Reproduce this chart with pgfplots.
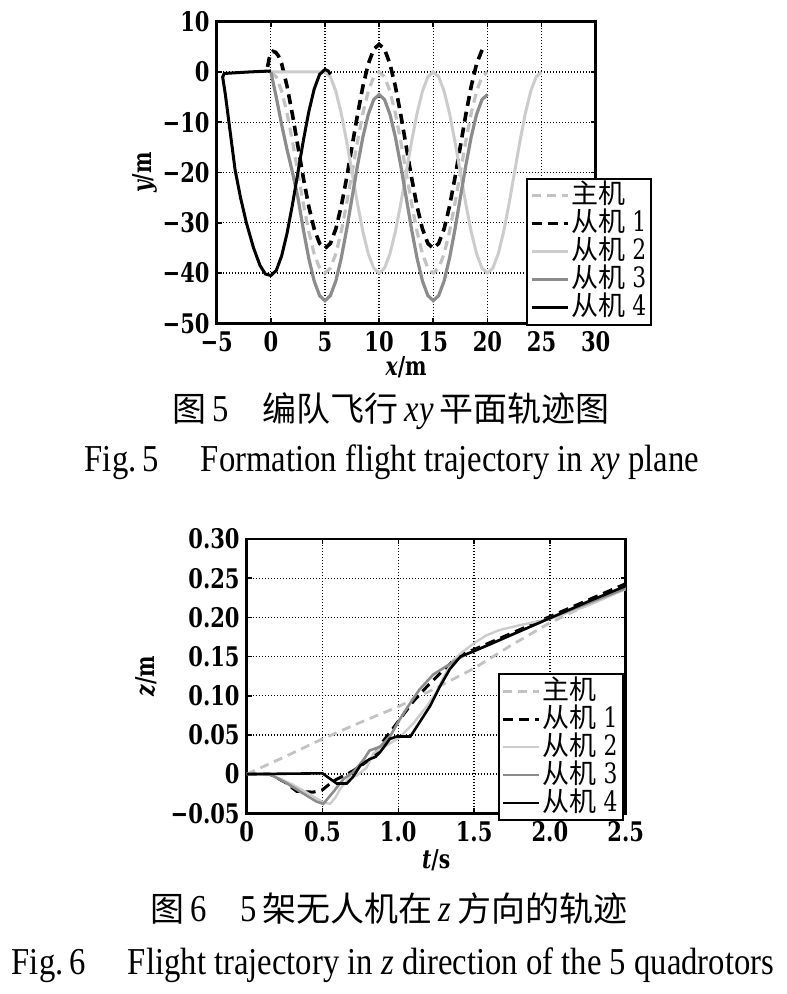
\documentclass[border=0pt]{standalone}
\usepackage{fontspec}
\usepackage{pgfplots}
\pgfplotsset{compat=1.18}
\setmainfont{Liberation Serif}
\newfontfamily\cjk{Noto Sans CJK SC}
\newfontfamily\tickfont{DejaVu Serif}[FakeStretch=0.78]
\newfontfamily\capfont{Liberation Serif}[FakeStretch=0.86]

\definecolor{leadc}{gray}{0.76}
\definecolor{f2c}{gray}{0.80}
\definecolor{f3c}{gray}{0.55}

\pgfplotsset{
  trajax/.style={
    scale only axis,
    anchor=south west,
    axis line style={line width=1.3pt},
    tick style={black, line width=0.8pt},
    major tick length=2.5pt,
    grid=major,
    major grid style={black, line width=0.65pt, dash pattern=on 0.7pt off 0.8pt},
    tick label style={font=\tickfont\bfseries\fontsize{13.5}{13.5}\selectfont},
    xticklabel style={yshift=-0.5pt},
    label style={font=\tickfont\bfseries\fontsize{13}{13}\selectfont},
    legend cell align=left,
    legend image code/.code={\draw[##1] (0pt,0pt) -- (18pt,0pt);},
    legend style={draw=black, line width=1pt, inner sep=1.5pt,
      font=\fontsize{13.5}{13.5}\selectfont,
      nodes={inner xsep=1pt, inner ysep=0.5pt, text height=10.5pt, text depth=2.5pt, anchor=west},
      row sep=0pt},
  },
  leadst/.style={color=leadc, line width=1.6pt, dash pattern=on 4.5pt off 3pt},
  f1st/.style={black, line width=1.8pt, dash pattern=on 5pt off 3pt},
  f2st/.style={color=f2c, line width=1.5pt},
  f3st/.style={color=f3c, line width=1.6pt},
  f4st/.style={black, line width=1.5pt},
}
\newcommand{\lnum}[1]{{\tickfont\fontsize{14}{14}\selectfont #1}}

\begin{document}
\begin{tikzpicture}
\useasboundingbox (0,0) rectangle (393pt,497pt);

% xy plane
\begin{axis}[trajax,
  at={(108.35pt,335.35pt)},
  width=189.5pt, height=150.8pt,
  xmin=-5, xmax=30, ymin=-50, ymax=10,
  xtick={-5,0,5,10,15,20,25,30},
  xticklabels={−5,0,5,10,15,20,25,30},
  ytick={-50,-40,-30,-20,-10,0,10},
  yticklabels={−50,−40,−30,−20,−10,0,10},
  xlabel={\itshape x\upshape/m},
  ylabel={\itshape y\upshape/m},
  xlabel style={at={(axis description cs:0.5,-0.145)}, anchor=center},
  ylabel style={at={(axis description cs:-0.19,0.5)}, anchor=center},
  legend style={at={(0.816,0.483)}, anchor=north west},
]
\addplot[leadst] coordinates {
(0,0) (0.5,-0.98) (1,-3.82) (1.5,-8.24) (2,-13.82) (2.5,-20) (3,-26.18) (3.5,-31.76) (4,-36.18) (4.5,-39.02)
(5,-40) (5.5,-39.02) (6,-36.18) (6.5,-31.76) (7,-26.18) (7.5,-20) (8,-13.82) (8.5,-8.24) (9,-3.82) (9.5,-0.98)
(10,0) (10.5,-0.98) (11,-3.82) (11.5,-8.24) (12,-13.82) (12.5,-20) (13,-26.18) (13.5,-31.76) (14,-36.18) (14.5,-39.02)
(15,-40) (15.5,-39.02) (16,-36.18) (16.5,-31.76) (17,-26.18) (17.5,-20) (18,-13.82) (18.5,-8.24) (19,-3.82) (19.5,-0.98)
(20,0)
};
\addlegendentry{\cjk 主机}
\addplot[f1st] coordinates {
(-0.3,1.0) (-0.15,2.7) (0,3.6) (0.2,4.1) (0.45,3.9) (0.7,3.2) (1,1.62) (1.5,-2.87) (2,-8.53) (2.5,-14.8)
(3,-21.07) (3.5,-26.73) (4,-31.22) (4.5,-34.11) (5,-35.1) (5.5,-34.11) (6,-31.22) (6.5,-26.73) (7,-21.07) (7.5,-14.8)
(8,-8.53) (8.5,-2.87) (9,1.62) (9.5,4.51) (10,5.5) (10.5,4.51) (11,1.62) (11.5,-2.87) (12,-8.53) (12.5,-14.8)
(13,-21.07) (13.5,-26.73) (14,-31.22) (14.5,-34.11) (15,-35.1) (15.5,-34.11) (16,-31.22) (16.5,-26.73) (17,-21.07) (17.5,-14.8)
(18,-8.53) (18.5,-2.87) (19,1.62) (19.6,4.9)
};
\addlegendentry{{\cjk 从机} \lnum{1}}
\addplot[f2st] coordinates {
(0,0) (2.5,0) (5,0) (5.5,-0.98) (6,-3.82) (6.5,-8.24) (7,-13.82) (7.5,-20) (8,-26.18) (8.5,-31.76) (9,-36.18) (9.5,-39.02)
(10,-40) (10.5,-39.02) (11,-36.18) (11.5,-31.76) (12,-26.18) (12.5,-20) (13,-13.82) (13.5,-8.24) (14,-3.82) (14.5,-0.98)
(15,0) (15.5,-0.98) (16,-3.82) (16.5,-8.24) (17,-13.82) (17.5,-20) (18,-26.18) (18.5,-31.76) (19,-36.18) (19.5,-39.02)
(20,-40) (20.5,-39.02) (21,-36.18) (21.5,-31.76) (22,-26.18) (22.5,-20) (23,-13.82) (23.5,-8.24) (24,-3.82) (24.5,-0.98)
(25,0)
};
\addlegendentry{{\cjk 从机} \lnum{2}}
\addplot[f3st] coordinates {
(0,0) (0.5,-5) (1,-10.5) (1.5,-15.5) (2,-20) (2.5,-25) (3,-31.33) (3.5,-37.05) (4,-41.58) (4.5,-44.5)
(5,-45.5) (5.5,-44.5) (6,-41.58) (6.5,-37.05) (7,-31.33) (7.5,-25) (8,-18.67) (8.5,-12.95) (9,-8.42) (9.5,-5.5)
(10,-4.5) (10.5,-5.5) (11,-8.42) (11.5,-12.95) (12,-18.67) (12.5,-25) (13,-31.33) (13.5,-37.05) (14,-41.58) (14.5,-44.5)
(15,-45.5) (15.5,-44.5) (16,-41.58) (16.5,-37.05) (17,-31.33) (17.5,-25) (18,-18.67) (18.5,-12.95) (19,-8.42) (19.5,-5.5)
(20,-4.5)
};
\addlegendentry{{\cjk 从机} \lnum{3}}
\addplot[f4st] coordinates {
(0,0.2) (-2,0) (-4.3,-0.3) (-4.45,-1) (-4.2,-4.5) (-3.9,-9.5) (-3.6,-14.5) (-3.3,-19.5) (-2.8,-25) (-2.26,-30)
(-1.6,-35) (-1,-38.5) (-0.5,-40.2) (0,-40.5) (0.5,-39.5) (1,-36.58) (1.5,-32.05) (2,-26.33) (2.5,-20) (3,-13.67)
(3.5,-7.95) (4,-3.42) (4.5,-0.5) (5,0.5) (5.3,0.2) (5.5,-0.5)
};
\addlegendentry{{\cjk 从机} \lnum{4}}
\end{axis}

% z direction
\begin{axis}[trajax,
  at={(123.35pt,90.35pt)},
  width=189.5pt, height=137.15pt,
  xmin=0, xmax=2.5, ymin=-0.05, ymax=0.30,
  xtick={0,0.5,1,1.5,2,2.5},
  xticklabels={0,0.5,1.0,1.5,2.0,2.5},
  ytick={-0.05,0,0.05,0.1,0.15,0.2,0.25,0.3},
  yticklabels={−0.05,0,0.05,0.10,0.15,0.20,0.25,0.30},
  xlabel={\itshape t\upshape/s},
  ylabel={\itshape z\upshape/m},
  xlabel style={at={(axis description cs:0.5,-0.172)}, anchor=center},
  ylabel style={at={(axis description cs:-0.265,0.5)}, anchor=center},
  legend style={at={(0.663,0.511)}, anchor=north west},
]
\addplot[leadst, line width=1.4pt] coordinates {
(0,0) (0.25,0.022) (0.5,0.045) (0.75,0.066) (1.0,0.086) (1.25,0.110) (1.5,0.135) (1.75,0.165) (2.0,0.193) (2.25,0.216) (2.5,0.238)
};
\addlegendentry{\cjk 主机}
\addplot[f1st, line width=1.5pt] coordinates {
(0,0) (0.15,0) (0.25,-0.01) (0.33,-0.022) (0.44,-0.023) (0.5,-0.02) (0.57,-0.009) (0.64,-0.002) (0.7,0.004) (0.77,0.013)
(0.835,0.022) (0.9,0.042) (0.96,0.057) (1.01,0.07) (1.1,0.093) (1.2,0.114) (1.3,0.133) (1.36,0.144) (1.43,0.154) (1.5,0.159)
(1.75,0.18) (2.0,0.201) (2.25,0.222) (2.5,0.243)
};
\addlegendentry{{\cjk 从机} \lnum{1}}
\addplot[f2st, line width=1.2pt] coordinates {
(0,0) (0.15,0) (0.3,-0.013) (0.4,-0.024) (0.505,-0.036) (0.55,-0.038) (0.585,-0.03) (0.616,-0.019) (0.68,-0.004) (0.725,-0.002)
(0.79,0.008) (0.835,0.026) (0.88,0.033) (0.92,0.036) (1.01,0.047) (1.1,0.065) (1.19,0.087) (1.25,0.104) (1.3,0.124) (1.36,0.145)
(1.43,0.157) (1.5,0.167) (1.58,0.177) (1.67,0.184) (1.8,0.19) (2.0,0.198) (2.25,0.215) (2.5,0.236)
};
\addlegendentry{{\cjk 从机} \lnum{2}}
\addplot[f3st, line width=1.3pt] coordinates {
(0,0) (0.15,0) (0.25,-0.01) (0.35,-0.022) (0.46,-0.035) (0.505,-0.038) (0.57,-0.023) (0.64,-0.006) (0.7,0.002) (0.77,0.018)
(0.81,0.03) (0.88,0.035) (0.945,0.048) (1.01,0.07) (1.08,0.091) (1.14,0.108) (1.23,0.127) (1.32,0.138) (1.385,0.146) (1.45,0.153)
(1.6,0.165) (1.8,0.182) (2.0,0.199) (2.25,0.218) (2.5,0.237)
};
\addlegendentry{{\cjk 从机} \lnum{3}}
\addplot[f4st, line width=1.3pt] coordinates {
(0,0) (0.5,0.001) (0.55,-0.006) (0.594,-0.012) (0.66,-0.012) (0.7,-0.004) (0.75,0.011) (0.81,0.019) (0.85,0.022) (0.88,0.028)
(0.945,0.045) (0.99,0.048) (1.08,0.048) (1.14,0.066) (1.21,0.087) (1.275,0.112) (1.34,0.134) (1.41,0.15) (1.5,0.157) (1.75,0.178)
(2.0,0.199) (2.25,0.22) (2.5,0.24)
};
\addlegendentry{{\cjk 从机} \lnum{4}}
\end{axis}

% captions
\node[anchor=base, inner sep=0pt, font=\fontsize{17}{19}\selectfont] at (195.5pt,286pt)
  {{\cjk 图}\,{\capfont\fontsize{19}{19}\selectfont 5}\hspace{1em}{\cjk 编队飞行}\,{\capfont\fontsize{19}{19}\selectfont\itshape xy}\,{\cjk 平面轨迹图}};
\node[anchor=base, inner sep=0pt, font=\capfont\fontsize{19}{21}\selectfont] at (196pt,261pt)
  {Fig.\,5\hspace{1.1em}Formation flight trajectory in \textit{xy} plane};
\node[anchor=base, inner sep=0pt, font=\fontsize{17}{19}\selectfont] at (194.5pt,36pt)
  {{\cjk 图}\,{\capfont\fontsize{19}{19}\selectfont 6}\hspace{1em}{\capfont\fontsize{19}{19}\selectfont 5}\,{\cjk 架无人机在}\,{\capfont\fontsize{19}{19}\selectfont\itshape z}\,{\cjk 方向的轨迹}};
\node[anchor=base, inner sep=0pt, font=\capfont\fontsize{19}{21}\selectfont] at (196.5pt,9.5pt)
  {Fig.\,6\hspace{1.1em}Flight trajectory in \textit{z} direction of the 5 quadrotors};
\end{tikzpicture}
\end{document}
